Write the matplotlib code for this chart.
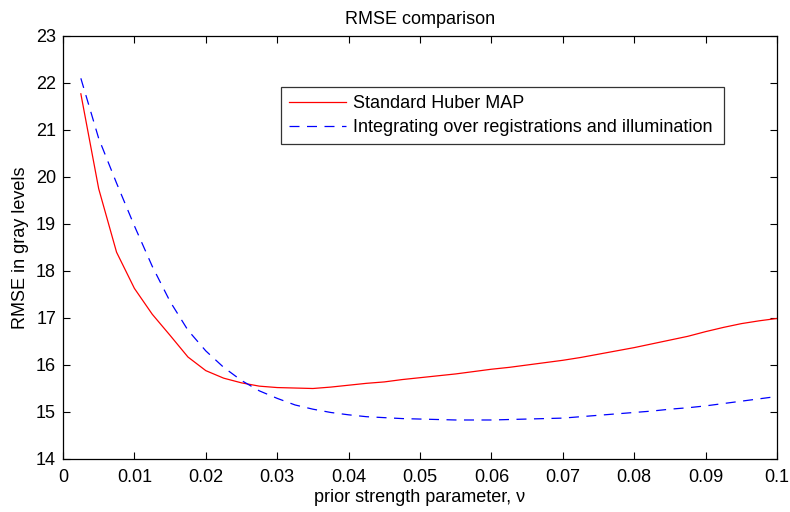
import matplotlib
matplotlib.use("Agg")
import matplotlib.pyplot as plt

plt.rcParams["font.family"] = ["Liberation Sans", "DejaVu Sans"]

# valeurs
nu = [0.0025, 0.005, 0.0075, 0.01, 0.0125, 0.015, 0.0175, 0.02, 0.0225, 0.025,
      0.0275, 0.03, 0.0325, 0.035, 0.0375, 0.04, 0.0425, 0.045, 0.0475, 0.05,
      0.0525, 0.055, 0.0575, 0.06, 0.0625, 0.065, 0.0675, 0.07, 0.0725, 0.075,
      0.0775, 0.08, 0.0825, 0.085, 0.0875, 0.09, 0.0925, 0.095, 0.0975, 0.1]

rmse_huber = [21.77, 19.75, 18.40, 17.63, 17.08, 16.63, 16.17, 15.88, 15.72, 15.62,
              15.55, 15.52, 15.51, 15.50, 15.53, 15.57, 15.61, 15.64, 15.69, 15.73,
              15.77, 15.81, 15.86, 15.91, 15.95, 16.00, 16.05, 16.10, 16.16, 16.23,
              16.30, 16.37, 16.45, 16.53, 16.61, 16.71, 16.80, 16.88, 16.94, 16.99]

rmse_integ = [22.10, 20.82, 19.87, 18.96, 18.10, 17.35, 16.74, 16.30, 15.95, 15.67,
              15.45, 15.29, 15.15, 15.06, 14.99, 14.94, 14.90, 14.88, 14.86, 14.85,
              14.84, 14.83, 14.83, 14.83, 14.84, 14.85, 14.86, 14.87, 14.90, 14.93,
              14.96, 14.99, 15.02, 15.06, 15.09, 15.13, 15.18, 15.23, 15.28, 15.33]

x_ticks = [0, 0.01, 0.02, 0.03, 0.04, 0.05, 0.06, 0.07, 0.08, 0.09, 0.1]
x_labels = ["0", "0.01", "0.02", "0.03", "0.04", "0.05", "0.06", "0.07", "0.08", "0.09", "0.1"]
y_ticks = list(range(14, 24))

fig = plt.figure(figsize=(7.9, 5.12), dpi=100)
ax = fig.add_axes([63 / 790, 53 / 512, 714 / 790, 423 / 512])

ax.plot(nu, rmse_huber, color="#ff0000", linewidth=0.9, label="Standard Huber MAP")
ax.plot(nu, rmse_integ, color="#0000ff", linewidth=0.9, linestyle=(0, (8, 6)),
        label="Integrating over registrations and illumination")

ax.set_xlim(0, 0.1)
ax.set_ylim(14, 23)
ax.set_xticks(x_ticks)
ax.set_xticklabels(x_labels)
ax.set_yticks(y_ticks)

ax.tick_params(direction="in", length=5, width=0.8, top=True, right=True,
               labelsize=13)
ax.tick_params(axis="x", pad=7)
ax.tick_params(axis="y", pad=5)
for spine in ax.spines.values():
    spine.set_linewidth(0.9)

ax.set_title("RMSE comparison", fontsize=13, pad=9)
ax.set_xlabel("prior strength parameter, ν", fontsize=13, labelpad=2)
ax.set_ylabel("RMSE in gray levels", fontsize=13, labelpad=5)

# cadre de la légende étendu à la largeur de la référence
leg = ax.legend(loc="upper left", bbox_to_anchor=(218 / 714, 0, 443 / 714, 372 / 423),
                mode="expand", fontsize=13, frameon=True, fancybox=False,
                handlelength=3.15, borderpad=0.45, labelspacing=0.4,
                handletextpad=0.4, borderaxespad=0)
leg.get_frame().set_edgecolor("black")
leg.get_frame().set_linewidth(0.9)

fig.savefig("out.png", dpi=100)
